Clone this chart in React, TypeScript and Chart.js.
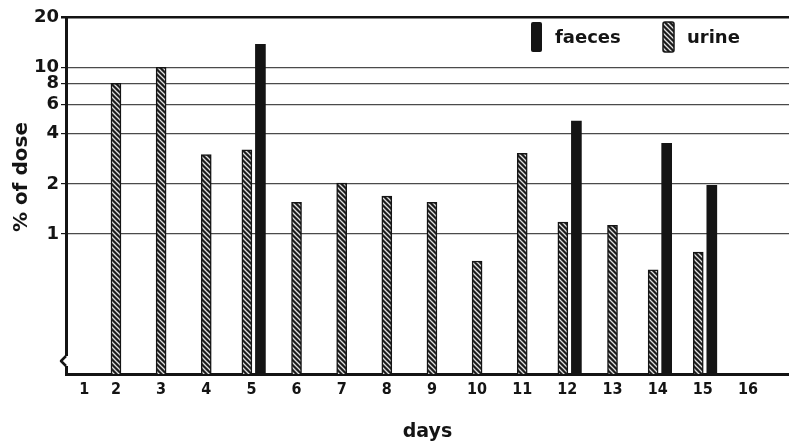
import React, { useEffect, useRef } from "react";
import { Chart, registerables } from "chart.js";

Chart.register(...registerables);

// ---- data ----
const DAYS = [1, 2, 3, 4, 5, 6, 7, 8, 9, 10, 11, 12, 13, 14, 15, 16];
const DAY_LABELS = ["1", "2", "3", "4", "5", "6", "7", "8", "9", "10", "11", "12", "13", "14", "15", "16"];
const URINE = [null, 8, 10, 3.0, 3.2, 1.55, 2.02, 1.69, 1.55, 0.69, 3.05, 1.18, 1.13, 0.61, 0.78, null];
const FAECES = [null, null, null, null, 13.7, null, null, null, null, null, null, 4.75, null, 3.5, 1.96, null];
const Y_TICKS = [1, 2, 4, 6, 8, 10, 20];
const SERIES_LABELS = ["faeces", "urine"];

const FONT = "'DejaVu Sans', sans-serif";
const FONT_COND = "'DejaVu Sans Condensed', 'DejaVu Sans', sans-serif";
const INK = "#141414";

function makePattern(): CanvasPattern | string {
  const n = 5;
  const p = document.createElement("canvas");
  p.width = n;
  p.height = n;
  const c = p.getContext("2d");
  if (!c) return INK;
  c.fillStyle = "#1c1c1c";
  c.fillRect(0, 0, n, n);
  c.strokeStyle = "#e0e0e0";
  c.lineWidth = 1.3;
  c.beginPath();
  c.moveTo(0, 0);
  c.lineTo(n, n);
  c.moveTo(-n, 0);
  c.lineTo(n, 2 * n);
  c.moveTo(0, -n);
  c.lineTo(2 * n, n);
  c.stroke();
  return c.createPattern(p, "repeat") || INK;
}

export default function App() {
  const ref = useRef<HTMLCanvasElement | null>(null);

  useEffect(() => {
    if (!ref.current) return;
    const hatch = makePattern();

    const paired = (i: number) => URINE[i] != null && FAECES[i] != null;
    const urinePts = DAYS.map((d, i) => ({ x: paired(i) ? d - 0.1 : d, y: URINE[i] })).filter((p) => p.y != null);
    const faecesPts = DAYS.map((d, i) => ({ x: d + 0.2, y: FAECES[i] })).filter((p) => p.y != null);

    const extras = {
      id: "extras",
      afterDraw(chart: any) {
        const { ctx, chartArea } = chart;
        ctx.save();
        // axis break on the y axis
        const L = chartArea.left;
        const yb = chartArea.bottom - 13;
        ctx.fillStyle = "#fff";
        ctx.fillRect(L - 2, yb - 5, 4, 10);
        ctx.strokeStyle = INK;
        ctx.lineWidth = 2.5;
        ctx.lineJoin = "round";
        ctx.beginPath();
        ctx.moveTo(L, yb - 5);
        ctx.lineTo(L - 5, yb);
        ctx.lineTo(L, yb + 5);
        ctx.stroke();

        // y title
        ctx.fillStyle = INK;
        ctx.font = `bold 20px ${FONT}`;
        ctx.textAlign = "center";
        ctx.textBaseline = "middle";
        ctx.translate(22, 177);
        ctx.rotate(-Math.PI / 2);
        ctx.fillText("% of dose", 0, 0);
        ctx.restore();

        // legend
        ctx.save();
        const items = [
          { x: 531, fill: INK, border: 0 },
          { x: 663, fill: hatch, border: 1.5 },
        ];
        chart.data.datasets.forEach((ds: any, i: number) => {
          const it = items[i];
          ctx.beginPath();
          if ((ctx as any).roundRect) (ctx as any).roundRect(it.x, 22, 11, 30, 2);
          else ctx.rect(it.x, 22, 11, 30);
          ctx.fillStyle = it.fill as any;
          ctx.fill();
          if (it.border) {
            ctx.strokeStyle = INK;
            ctx.lineWidth = it.border;
            ctx.stroke();
          }
          ctx.fillStyle = INK;
          ctx.font = `bold 18px ${FONT}`;
          ctx.textAlign = "left";
          ctx.textBaseline = "middle";
          ctx.fillText(ds.label, it.x + 24, 38);
        });
        ctx.restore();
      },
    };

    const chart = new Chart(ref.current, {
      type: "bar",
      data: {
        datasets: [
          { label: SERIES_LABELS[0], data: faecesPts as any, backgroundColor: INK, borderWidth: 0, barThickness: 10 } as any,
          { label: SERIES_LABELS[1], data: urinePts as any, backgroundColor: hatch as any, borderColor: INK, borderWidth: 1.5, barThickness: 10 } as any,
        ],
      },
      options: {
        animation: false,
        responsive: false,
        layout: { padding: { top: 17, right: 0, left: 0, bottom: 0 } },
        datasets: { bar: { grouped: false } } as any,
        plugins: { legend: { display: false }, tooltip: { enabled: false } },
        scales: {
          x: {
            type: "linear",
            offset: false,
            min: 0.893,
            max: 16.91,
            grid: { display: false, drawTicks: false, offset: false },
            border: { display: true, width: 3, color: INK },
            afterBuildTicks: (s: any) => {
              s.ticks = DAYS.map((d) => ({ value: d === 1 ? 1.3 : d }));
            },
            ticks: {
              autoSkip: false,
              maxRotation: 0,
              padding: 6,
              color: INK,
              font: { family: FONT_COND, size: 16, weight: "bold" },
              callback: (_v: any, i: number) => DAY_LABELS[i],
            },
            title: {
              display: true,
              text: "days",
              color: INK,
              font: { family: FONT, size: 19, weight: "bold" },
              padding: { top: 0, bottom: 1 },
            },
            afterFit: (s: any) => {
              s.height = 70;
            },
          } as any,
          y: {
            type: "logarithmic",
            min: 0.145,
            max: 20,
            afterBuildTicks: (s: any) => {
              s.ticks = Y_TICKS.map((v) => ({ value: v }));
            },
            ticks: {
              padding: 2,
              color: INK,
              font: { family: FONT, size: 18, weight: "bold" },
              callback: (v: any) => String(v),
            },
            grid: {
              color: (c: any) => (c.tick && c.tick.value === 20 ? INK : "#4a4a4a"),
              lineWidth: (c: any) => (c.tick && c.tick.value === 20 ? 2.5 : 1.2),
              tickColor: INK,
              tickLength: 5,
              drawTicks: true,
            },
            border: { display: true, width: 3, color: INK },
            afterFit: (s: any) => {
              s.width = 66;
            },
          } as any,
        },
      },
      plugins: [extras],
    });
    return () => chart.destroy();
  }, []);

  return (
    <div style={{ position: "absolute", left: 0, top: 0, width: 789, height: 444, background: "#fff" }}>
      <canvas ref={ref} width={789} height={444} style={{ width: 789, height: 444 }} />
    </div>
  );
}
